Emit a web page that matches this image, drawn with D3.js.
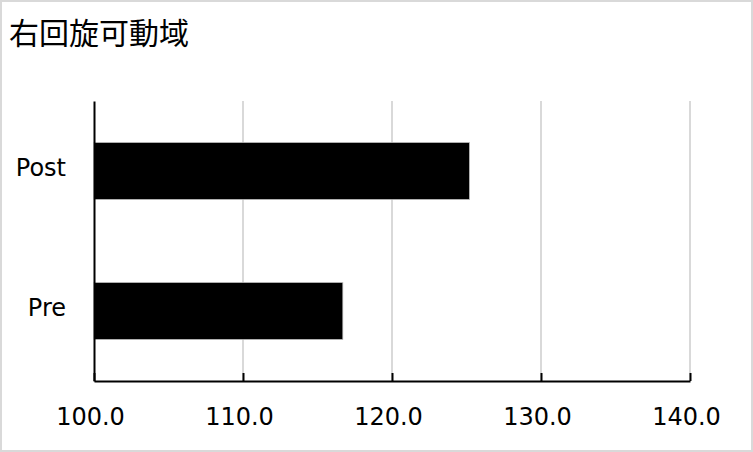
<!DOCTYPE html>
<html>
<head>
<meta charset="utf-8">
<script src="https://cdn.jsdelivr.net/npm/d3@7"></script>
<style>
  body { margin: 0; background: #fff; }
</style>
</head>
<body>
<script>
// values
const categories = ["Post", "Pre"];
const values = [125.2, 116.7];
const tickValues = [100, 110, 120, 130, 140];
const title = "右回旋可動域";

const width = 753, height = 452;
const margin = { top: 101, right: 63, bottom: 71, left: 94 };

var svg = d3
  .select("body")
  .append("svg")
  .attr("width", width)
  .attr("height", height);

// outer border
svg
  .append("rect")
  .attr("x", 1)
  .attr("y", 1)
  .attr("width", width - 2)
  .attr("height", height - 2)
  .attr("fill", "#fff")
  .attr("stroke", "#d9d9d9")
  .attr("stroke-width", 2);

svg
  .append("text")
  .attr("x", 9)
  .attr("y", 44)
  .style("font-family", "'Noto Sans CJK JP', sans-serif")
  .style("font-size", "30px")
  .attr("fill", "#000")
  .text(title);

var x = d3
  .scaleLinear()
  .domain([100, 140])
  .range([margin.left, width - margin.right]);

var y = d3
  .scaleBand()
  .domain(categories)
  .range([margin.top, height - margin.bottom])
  .paddingInner(0.593)
  .paddingOuter(0.2965);

// gridlines
svg
  .selectAll("grid")
  .data(tickValues.slice(1))
  .enter()
  .append("line")
  .attr("x1", (d) => x(d))
  .attr("x2", (d) => x(d))
  .attr("y1", margin.top)
  .attr("y2", height - margin.bottom)
  .attr("stroke", "#d9d9d9")
  .attr("stroke-width", 2);

// bars
svg
  .selectAll("bars")
  .data(categories)
  .enter()
  .append("rect")
  .attr("x", x(100))
  .attr("y", (d) => y(d))
  .attr("width", (d, i) => x(values[i]) - x(100))
  .attr("height", y.bandwidth())
  .attr("fill", "#000")
  .attr("stroke", "#bfbfbf")
  .attr("stroke-width", 0.75);

// x axis, ticks pointing up into the plot
var xAxis = svg
  .append("g")
  .attr("transform", "translate(0," + (height - margin.bottom) + ")")
  .call(
    d3
      .axisBottom(x)
      .tickValues(tickValues)
      .tickSize(-8)
      .tickSizeOuter(0)
      .tickPadding(27)
      .tickFormat(d3.format(".1f"))
  );
xAxis.select(".domain").attr("stroke", "#000").attr("stroke-width", 2);
xAxis.selectAll(".tick line").attr("stroke", "#000").attr("stroke-width", 2);
xAxis
  .selectAll(".tick text")
  .attr("fill", "#000")
  .attr("dx", -4)
  .style("font-family", "'DejaVu Sans', sans-serif")
  .style("font-size", "24px");

// y axis
var yAxis = svg
  .append("g")
  .attr("transform", "translate(" + margin.left + ",0)")
  .call(d3.axisLeft(y).tickSize(0).tickPadding(28));
yAxis.select(".domain").attr("stroke", "#000").attr("stroke-width", 2);
yAxis
  .selectAll(".tick text")
  .attr("fill", "#000")
  .attr("dy", "0.2em")
  .style("font-family", "'DejaVu Sans', sans-serif")
  .style("font-size", "24px");
</script>
</body>
</html>
